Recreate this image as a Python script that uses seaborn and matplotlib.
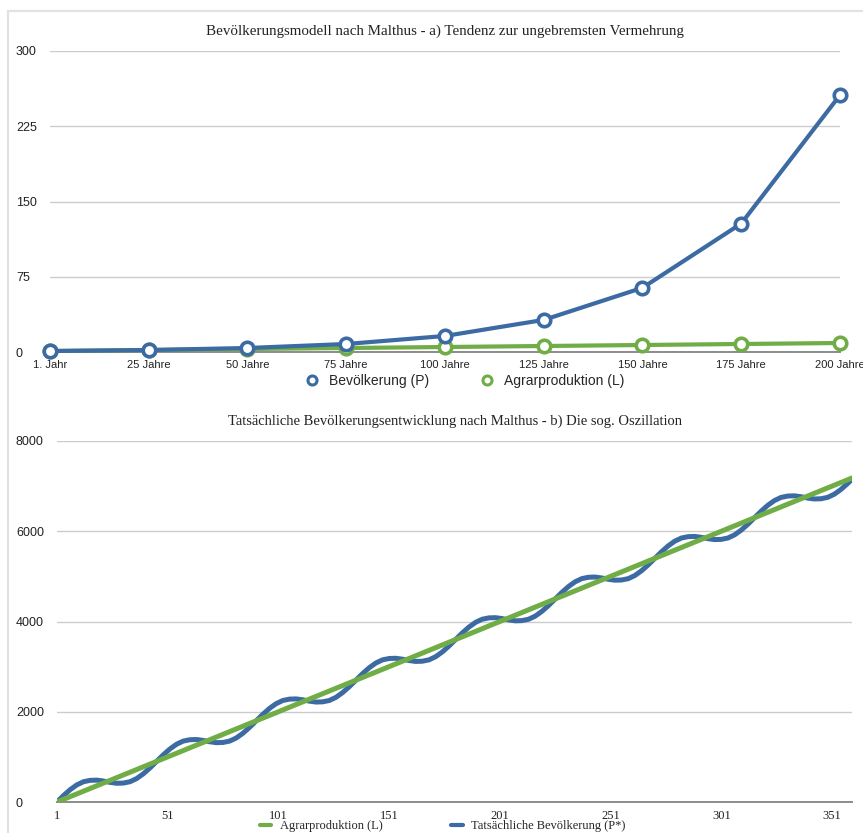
import matplotlib
import matplotlib.pyplot as plt
import seaborn as sns
from matplotlib.lines import Line2D

matplotlib.use("Agg")

# Chart a) - Malthus model
JAHRE = ["1. Jahr", "25 Jahre", "50 Jahre", "75 Jahre", "100 Jahre",
         "125 Jahre", "150 Jahre", "175 Jahre", "200 Jahre"]
BEVOELKERUNG = [1, 2, 4, 8, 16, 32, 64, 128, 256]
AGRAR = [1, 2, 3, 4, 5, 6, 7, 8, 9]

# Chart b) - oscillation
T_AGRAR = [1, 51, 101, 151, 201, 251, 301, 351, 360]
AGRAR_B = [0, 1000, 2000, 3000, 4000, 5000, 6000, 7000, 7180]
T_BEV = list(range(1, 359, 3)) + [360]
BEV_B = [0, 145, 275, 380, 450, 480, 485, 465, 435, 415, 420, 450, 520, 625, 755,
         900, 1045, 1175, 1280, 1350, 1380, 1385, 1365, 1335, 1315, 1320, 1350, 1420, 1525, 1655,
         1800, 1945, 2075, 2180, 2250, 2280, 2285, 2265, 2235, 2215, 2220, 2250, 2320, 2425, 2555,
         2700, 2845, 2975, 3080, 3150, 3180, 3185, 3165, 3135, 3115, 3120, 3150, 3220, 3325, 3455,
         3600, 3745, 3875, 3980, 4050, 4080, 4085, 4065, 4035, 4015, 4020, 4050, 4120, 4225, 4355,
         4500, 4645, 4775, 4880, 4950, 4980, 4985, 4965, 4935, 4915, 4920, 4950, 5020, 5125, 5255,
         5400, 5545, 5675, 5780, 5850, 5880, 5885, 5865, 5835, 5815, 5820, 5850, 5920, 6025, 6155,
         6300, 6445, 6575, 6680, 6750, 6780, 6785, 6765, 6735, 6715, 6720, 6750, 6820, 6925, 7055,
         7150]

BLUE = "#3c6ba3"
GREEN = "#70ad47"
GRID = "#cccccc"
SERIF = ["Liberation Serif", "DejaVu Serif"]
NARROW = ["Liberation Sans Narrow", "Liberation Sans", "DejaVu Sans"]

sns.set_theme(style="white")
plt.rcParams["font.family"] = NARROW

fig = plt.figure(figsize=(8.63, 8.33), dpi=100)
fig.patch.set_facecolor("white")

# panel border (top and left)
fig.add_artist(Line2D([0.0093, 0.0093], [0, 0.987], color="#e2e2e2", lw=1.6))
fig.add_artist(Line2D([0.0093, 1.0], [0.987, 0.987], color="#e2e2e2", lw=1.6))


def style_axis(ax, yticks, ypad):
    ax.set_yticks(yticks)
    ax.grid(axis="y", color=GRID, lw=1)
    ax.grid(axis="x", visible=False)
    for s in ["top", "right", "left"]:
        ax.spines[s].set_visible(False)
    ax.spines["bottom"].set_color("#8c8c8c")
    ax.spines["bottom"].set_linewidth(1.4)
    ax.spines["bottom"].set_zorder(1)
    ax.tick_params(axis="both", length=0, labelsize=8, colors="#222222")
    ax.tick_params(axis="y", pad=ypad, labelsize=9)
    for lab in ax.get_yticklabels():
        lab.set_ha("left")
    ax.set_xlabel("")
    ax.set_ylabel("")


# ---------------- top chart ----------------
ax1 = fig.add_axes([0.0579, 0.5774, 0.9154, 0.3614])
pos = list(range(len(JAHRE)))
for vals, col in [(AGRAR, GREEN), (BEVOELKERUNG, BLUE)]:
    sns.lineplot(x=pos, y=vals, ax=ax1, color=col, lw=3, marker="o",
                 markersize=9, markerfacecolor="white", markeredgecolor=col,
                 markeredgewidth=2.6, clip_on=False, zorder=3)
ax1.set_xlim(0, 8)
ax1.set_ylim(0, 300)
ax1.set_xticks(pos)
ax1.set_xticklabels(JAHRE)
style_axis(ax1, [0, 75, 150, 225, 300], 24.5)
ax1.tick_params(axis="x", pad=6)
fig.text(0.5157, 0.9628, "Bevölkerungsmodell nach Malthus - a) Tendenz zur ungebremsten Vermehrung",
         ha="center", va="center", fontsize=10.8, family=SERIF, color="#222222")
h1 = [Line2D([], [], ls="none", marker="o", markersize=6.5, markerfacecolor="white",
             markeredgecolor=BLUE, markeredgewidth=2.2),
      Line2D([], [], ls="none", marker="o", markersize=6.5, markerfacecolor="white",
             markeredgecolor=GREEN, markeredgewidth=2.2)]
fig.legend(h1, ["Bevölkerung (P)", "Agrarproduktion (L)"], loc="center",
           bbox_to_anchor=(0.5345, 0.5425), ncol=2, frameon=False, fontsize=10,
           handletextpad=0.2, columnspacing=3.2, borderpad=0)

# ---------------- bottom chart ----------------
ax2 = fig.add_axes([0.0660, 0.0372, 0.9212, 0.4334])
sns.lineplot(x=T_BEV, y=BEV_B, ax=ax2, color=BLUE, lw=3.6, zorder=3,
             solid_joinstyle="round")
sns.lineplot(x=T_AGRAR, y=AGRAR_B, ax=ax2, color=GREEN, lw=3.6, zorder=4)
ax2.set_xlim(1, 360)
ax2.set_ylim(0, 8000)
ax2.set_xticks([1, 51, 101, 151, 201, 251, 301, 351])
style_axis(ax2, [0, 2000, 4000, 6000, 8000], 29.5)
ax2.tick_params(axis="x", pad=6, labelsize=9)
for lab in ax2.get_xticklabels():
    lab.set_family(SERIF)
fig.text(0.527, 0.4946, "Tatsächliche Bevölkerungsentwicklung nach Malthus - b) Die sog. Oszillation",
         ha="center", va="center", fontsize=10.5, family=SERIF, color="#222222")
h2 = [Line2D([], [], color=GREEN, lw=3), Line2D([], [], color=BLUE, lw=3)]
fig.legend(h2, ["Agrarproduktion (L)", "Tatsächliche Bevölkerung (P*)"], loc="center",
           bbox_to_anchor=(0.513, 0.0085), ncol=2, frameon=False,
           prop={"family": SERIF, "size": 9}, handlelength=0.9,
           handletextpad=0.7, columnspacing=5.5, borderpad=0)

fig.savefig("out.png", dpi=100, facecolor="white")
